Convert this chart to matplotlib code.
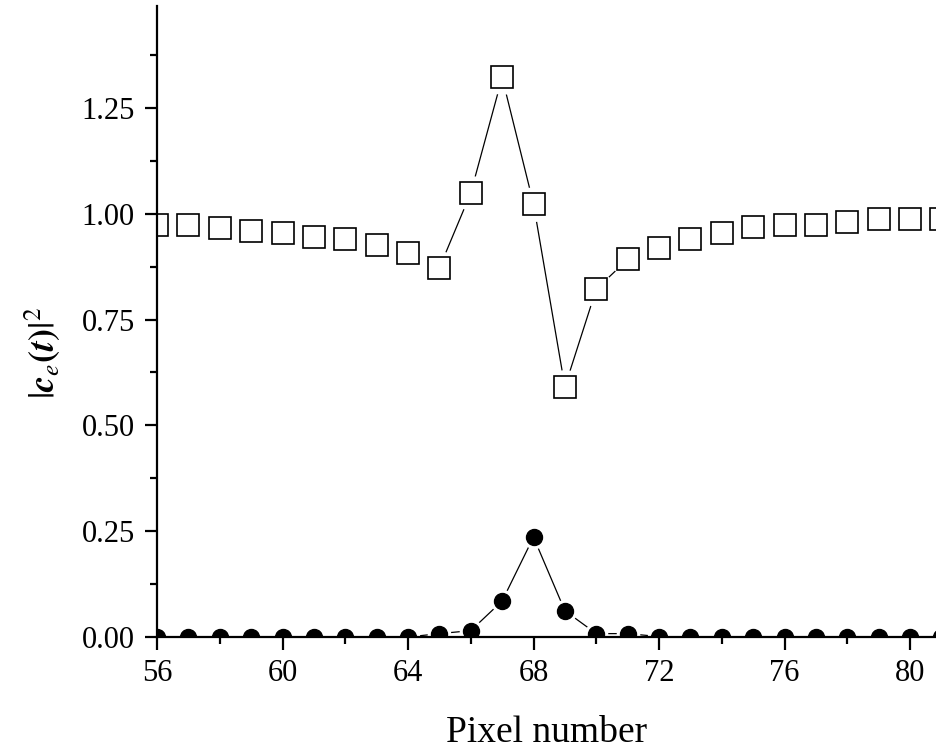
import matplotlib
matplotlib.use("Agg")
import matplotlib.pyplot as plt
from matplotlib.ticker import MultipleLocator, FormatStrFormatter

pixels = list(range(56, 82))
squares = [0.973, 0.973, 0.966, 0.960, 0.954, 0.946, 0.940, 0.925, 0.907, 0.872,
           1.049, 1.322, 1.023, 0.591, 0.822, 0.892, 0.920, 0.940, 0.954, 0.968,
           0.974, 0.974, 0.981, 0.988, 0.988, 0.988]
circles = [0.0, 0.0, 0.0, 0.0, 0.0, 0.0, 0.0, 0.0, 0.0, 0.008,
           0.015, 0.085, 0.236, 0.062, 0.008, 0.008, 0.001, 0.0, 0.0, 0.0,
           0.0, 0.0, 0.0, 0.0, 0.0, 0.0]

plt.rcParams['font.family'] = ['Liberation Serif', 'DejaVu Serif']
plt.rcParams['mathtext.fontset'] = 'stix'

fig = plt.figure(figsize=(9.37, 7.53), dpi=100)
ax = fig.add_axes([157/937, (753-637)/753, (937-157)/937, (637-5.5)/753])

# connecting lines
ax.plot(pixels, squares, '-', color='black', lw=0.9, zorder=1)
ax.plot(pixels, circles, '-', color='black', lw=0.9, zorder=1)
# white round halos to create the gaps around markers
ax.plot(pixels, squares, 'o', ms=25.2, mfc='white', mec='white', mew=0, ls='none', zorder=1.5)
ax.plot(pixels, circles, 'o', ms=17, mfc='white', mec='white', mew=0, ls='none', zorder=1.5)
# markers
ax.plot(pixels, squares, 's', ms=16, mfc='white', mec='black', mew=1.2, ls='none', zorder=2)
ax.plot(pixels, circles, 'o', ms=11.5, mfc='black', mec='black', mew=1, ls='none', zorder=2)

ax.set_xlim(56, 80.86)
ax.set_ylim(0, 1.492)

for s in ['top', 'right']:
    ax.spines[s].set_visible(False)
for s in ['left', 'bottom']:
    ax.spines[s].set_linewidth(1.6)

ax.xaxis.set_major_locator(MultipleLocator(4))
ax.xaxis.set_minor_locator(MultipleLocator(2))
ax.yaxis.set_major_locator(MultipleLocator(0.25))
ax.yaxis.set_minor_locator(MultipleLocator(0.125))
ax.yaxis.set_major_formatter(FormatStrFormatter('%.2f'))

ax.tick_params(which='major', direction='out', length=9, width=1.6, labelsize=22, pad=7)
ax.tick_params(which='minor', direction='out', length=5, width=1.6)

ax.set_xlabel('Pixel number', fontsize=27, labelpad=20)
ax.set_ylabel(r'$|\mathbfit{c}_e\mathbf{(}\mathbfit{t}\mathbf{)}|^2$', fontsize=26)
ax.yaxis.set_label_coords(-0.122, 0.45)

fig.savefig('out.png', dpi=100)
